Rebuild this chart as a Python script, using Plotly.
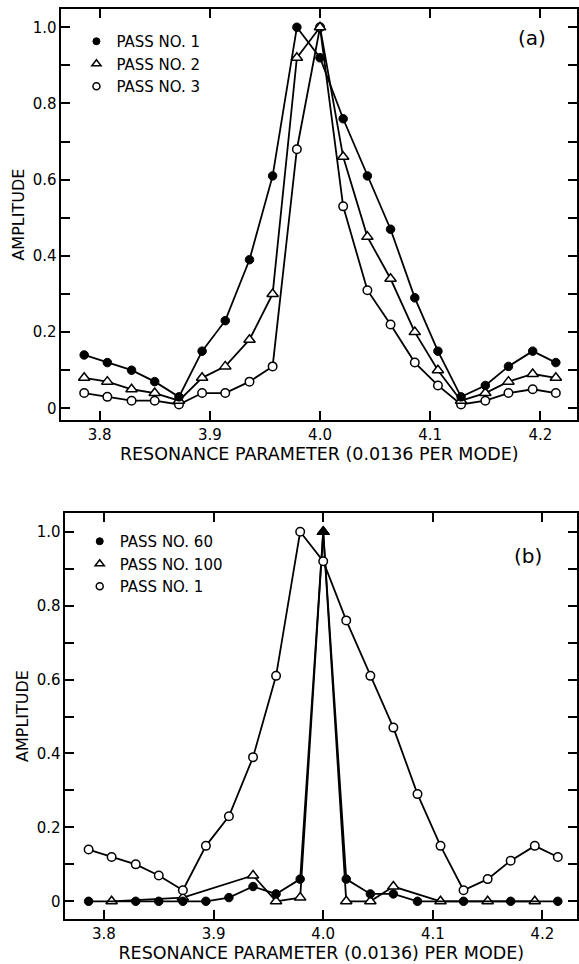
import plotly.graph_objects as go

# Resonance parameter positions (shared by both panels)
x_vals = [3.786, 3.807, 3.829, 3.850, 3.872, 3.893, 3.914, 3.936, 3.957, 3.979,
          4.000, 4.021, 4.043, 4.064, 4.086, 4.107, 4.128, 4.150, 4.171, 4.193, 4.214]

# Panel (a)
a_pass1 = [0.14, 0.12, 0.10, 0.07, 0.03, 0.15, 0.23, 0.39, 0.61, 1.00,
           0.92, 0.76, 0.61, 0.47, 0.29, 0.15, 0.03, 0.06, 0.11, 0.15, 0.12]
a_pass2 = [0.08, 0.07, 0.05, 0.04, 0.02, 0.08, 0.11, 0.18, 0.30, 0.92,
           1.00, 0.66, 0.45, 0.34, 0.20, 0.10, 0.02, 0.04, 0.07, 0.09, 0.08]
a_pass3 = [0.04, 0.03, 0.02, 0.02, 0.01, 0.04, 0.04, 0.07, 0.11, 0.68,
           1.00, 0.53, 0.31, 0.22, 0.12, 0.06, 0.01, 0.02, 0.04, 0.05, 0.04]

# Panel (b)  (None = no marker drawn at that position)
b_pass60 = [0.00, None, 0.00, 0.00, 0.00, 0.00, 0.01, 0.04, 0.02, 0.06,
            1.00, 0.06, 0.02, 0.02, 0.00, None, 0.00, None, 0.00, None, 0.00]
b_pass100 = [None, 0.00, None, None, 0.01, None, None, 0.07, 0.00, 0.01,
             1.00, 0.00, 0.00, 0.04, None, 0.00, None, 0.00, None, 0.00, None]
b_pass1 = [0.14, 0.12, 0.10, 0.07, 0.03, 0.15, 0.23, 0.39, 0.61, 1.00,
           0.92, 0.76, 0.61, 0.47, 0.29, 0.15, 0.03, 0.06, 0.11, 0.15, 0.12]

x_ticks = [3.8, 3.9, 4.0, 4.1, 4.2]
x_ticktext = ["3.8", "3.9", "4.0", "4.1", "4.2"]
y_ticks = [0, 0.1, 0.2, 0.3, 0.4, 0.5, 0.6, 0.7, 0.8, 0.9, 1.0]
y_ticktext = ["0", "", "0.2", "", "0.4", "", "0.6", "", "0.8", "", "1.0"]

FONT = "DejaVu Sans"
LW = 1.8

def style(kind, size_c=8.5, size_t=10):
    if kind == "filled":
        return dict(symbol="circle", size=size_c, color="black", opacity=1,
                    line=dict(color="black", width=1))
    if kind == "tri":
        return dict(symbol="triangle-up", size=size_t, color="white", opacity=1,
                    line=dict(color="black", width=1.5))
    return dict(symbol="circle", size=size_c, color="white", opacity=1,
                line=dict(color="black", width=1.5))

fig = go.Figure()

# ---- panel (a) ----
for name, vals, kind in [("PASS NO. 3", a_pass3, "open"), ("PASS NO. 2", a_pass2, "tri"),
                         ("PASS NO. 1", a_pass1, "filled")]:
    fig.add_trace(go.Scatter(x=x_vals, y=vals, mode="lines+markers", name=name,
                             line=dict(color="black", width=LW), marker=style(kind),
                             showlegend=False, xaxis="x", yaxis="y", cliponaxis=False))
for name, kind in [("PASS NO. 1", "filled"), ("PASS NO. 2", "tri"), ("PASS NO. 3", "open")]:
    fig.add_trace(go.Scatter(x=[None], y=[None], mode="markers", name=name,
                             marker=style(kind, 7, 8), xaxis="x", yaxis="y", legend="legend"))

# ---- panel (b) ----
peak = max(v for v in b_pass60 if v is not None)
sym60 = ["triangle-up" if v == peak else "circle" for v in b_pass60]
size60 = [11 if v == peak else 8.5 for v in b_pass60]
fig.add_trace(go.Scatter(x=x_vals, y=b_pass100, mode="lines+markers", name="PASS NO. 100",
                         connectgaps=True, line=dict(color="black", width=LW), marker=style("tri"),
                         showlegend=False, xaxis="x2", yaxis="y2", cliponaxis=False))
fig.add_trace(go.Scatter(x=x_vals, y=b_pass60, mode="lines+markers", name="PASS NO. 60",
                         connectgaps=True, line=dict(color="black", width=LW),
                         marker=dict(symbol=sym60, size=size60, color="black", opacity=1,
                                     line=dict(color="black", width=1)),
                         showlegend=False, xaxis="x2", yaxis="y2", cliponaxis=False))
fig.add_trace(go.Scatter(x=x_vals, y=b_pass1, mode="lines+markers", name="PASS NO. 1",
                         line=dict(color="black", width=LW), marker=style("open"),
                         showlegend=False, xaxis="x2", yaxis="y2", cliponaxis=False))
for name, kind in [("PASS NO. 60", "filled"), ("PASS NO. 100", "tri"), ("PASS NO. 1", "open")]:
    fig.add_trace(go.Scatter(x=[None], y=[None], mode="markers", name=name,
                             marker=style(kind, 7, 8), xaxis="x2", yaxis="y2", legend="legend2"))

W, H = 579, 964

def xaxis(domain_left, rng, title):
    return dict(domain=[domain_left / W, 1.0], range=rng, tickvals=x_ticks, ticktext=x_ticktext,
                ticks="inside", ticklen=9, tickwidth=1.5, tickcolor="black",
                showline=True, linecolor="black", linewidth=1.8, mirror="ticks",
                showgrid=False, zeroline=False,
                tickfont=dict(family=FONT, size=15, color="black"),
                title=dict(text=title, font=dict(family=FONT, size=17.5, color="black"), standoff=1))

def yaxis(top_px, bot_px, rng, anchor):
    return dict(domain=[1 - bot_px / H, 1 - top_px / H], range=rng, tickvals=y_ticks, ticktext=y_ticktext,
                ticks="inside", ticklen=9, tickwidth=1.5, tickcolor="black",
                showline=True, linecolor="black", linewidth=1.8, mirror="ticks",
                showgrid=False, zeroline=False, anchor=anchor,
                tickfont=dict(family=FONT, size=15, color="black"),
                title=dict(text="AMPLITUDE", font=dict(family=FONT, size=16, color="black"), standoff=4))

fig.update_layout(
    width=W, height=H, paper_bgcolor="white", plot_bgcolor="white",
    margin=dict(l=0, r=0, t=0, b=0),
    font=dict(family=FONT, color="black"),
    xaxis=dict(**xaxis(61.7, [3.7654, 4.2332], "RESONANCE PARAMETER (0.0136 PER MODE)"), anchor="y"),
    yaxis=yaxis(9.3, 420, [-0.0307, 1.0472], "x"),
    xaxis2=dict(**xaxis(65.7, [3.7649, 4.2315], "RESONANCE PARAMETER (0.0136) PER MODE)"), anchor="y2"),
    yaxis2=yaxis(512.7, 919.3, [-0.0487, 1.0514], "x2"),
    legend=dict(x=(96.7 - 20) / W, y=1 - 25 / H, xanchor="left", yanchor="top",
                bgcolor="rgba(0,0,0,0)", borderwidth=0,
                font=dict(family=FONT, size=15, color="black")),
    legend2=dict(x=(100 - 20) / W, y=1 - 525 / H, xanchor="left", yanchor="top",
                 bgcolor="rgba(0,0,0,0)", borderwidth=0,
                 font=dict(family=FONT, size=15, color="black")),
    annotations=[
        dict(text="(a)", x=4.192, y=0.973, xref="x", yref="y", showarrow=False,
             font=dict(family=FONT, size=20, color="black")),
        dict(text="(b)", x=4.187, y=0.933, xref="x2", yref="y2", showarrow=False,
             font=dict(family=FONT, size=20, color="black")),
    ],
)

fig.write_html("out.html", config={"displayModeBar": False},
               post_script="document.body.style.margin='0';document.body.style.overflow='hidden';")
